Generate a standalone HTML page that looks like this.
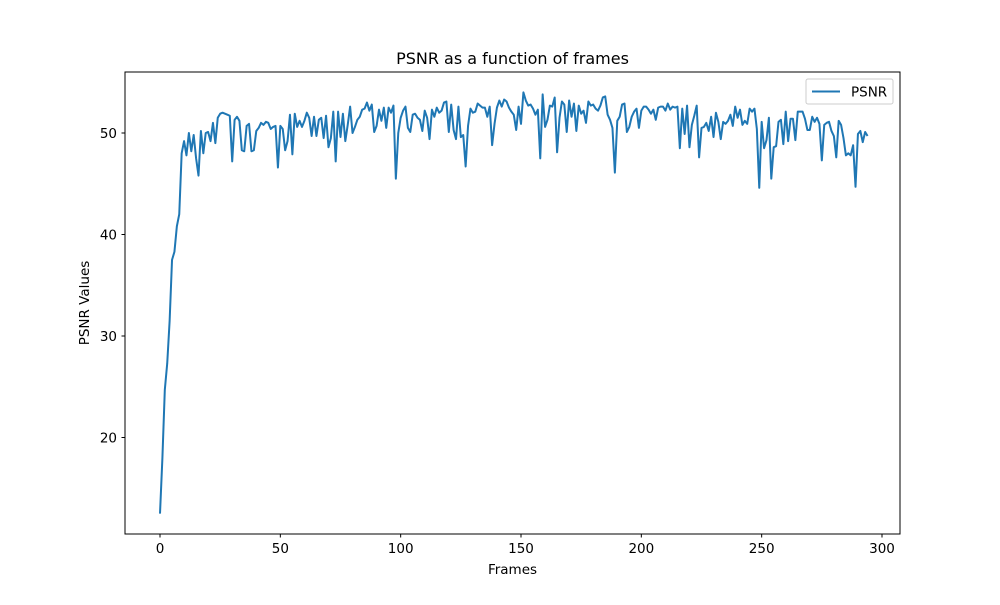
<!DOCTYPE html>
<html><head><meta charset="utf-8"><style>
body{margin:0;background:#fff;}
svg text{font-family:"DejaVu Sans","Liberation Sans",sans-serif;fill:#000;}
</style></head><body>
<svg id="chart" width="1000" height="600" xmlns="http://www.w3.org/2000/svg">
<rect width="1000" height="600" fill="#fff"/>
<text x="512.5" y="64" font-size="16" text-anchor="middle">PSNR as a function of frames</text>
<g id="plot"></g>
<rect x="125" y="72" width="775" height="462" fill="none" stroke="#000" stroke-width="1"/>
<g id="xticks"></g><g id="yticks"></g>
<text x="512.5" y="574" font-size="13.5" text-anchor="middle">Frames</text>
<text transform="translate(89,303) rotate(-90)" font-size="13.5" text-anchor="middle">PSNR Values</text>
<g>
<rect x="806" y="79" width="87" height="25" rx="2" fill="#fff" fill-opacity="0.8" stroke="#ccc"/>
<line x1="812" y1="91.5" x2="840" y2="91.5" stroke="#1f77b4" stroke-width="2"/>
<text x="851" y="96.5" font-size="13.5">PSNR</text>
</g>
</svg>
<script>
const xTickValues=[0,50,100,150,200,250,300];
const yTickValues=[20,30,40,50];
const psnrValues=[12.5,18,24.7,27.3,31.5,37.5,38.3,40.8,42,48,49.2,
47.8,50,48.2,49.8,47.5,45.8,50.2,48,50,50.1,
49.2,51,49,51.5,51.9,52,51.9,51.8,51.7,47.2,
51.3,51.6,51.2,48.3,48.2,50.7,50.9,48.2,48.3,50.2,
50.5,51,50.8,51.1,51,50.4,50.6,50.7,46.6,50.7,
50.4,48.3,49.2,51.8,47.9,51.9,50.6,51.2,50.6,51.2,
52,51.5,49.7,51.6,49.7,51.3,51.5,49.5,51.7,48.6,
49.5,52.1,47.2,52.1,49.6,51.9,49.2,50.8,52.6,50,
50.6,51.3,51.6,52.3,52.4,53,52.2,52.8,50.1,50.7,
52.3,51.2,52.5,50.5,52.5,52,52.7,45.5,50,51.5,
52.2,52.6,50.5,50.1,51.8,51.9,51.5,51.3,50.2,52.2,
51.5,49.4,52.3,51.6,52.5,52,52.2,53,53.1,50.1,
52.8,50.3,49.4,52.6,49.6,49.8,46.7,50.7,52.4,52,
52.1,52.9,52.7,52.5,52.5,51.6,52.6,48.8,50.9,52.5,
53.2,52.6,53.3,53.1,52.5,52.1,51.8,50.3,52.6,50.9,
54,53.2,52.7,52.8,52.4,51.8,52.3,47.5,53.8,50.6,
51.3,52.7,52.6,53.5,48.1,51.5,53.1,52.8,50.1,53.2,
51.6,52.9,50.2,52.7,51.9,52.2,51,53.1,52.7,52.8,
52.4,52.2,52.7,53.5,53.6,51.8,51.3,50.5,46.1,51.2,
51.6,52.8,52.9,50.1,50.6,51.6,52.1,52.4,50.5,52.2,
52.6,52.6,52.3,51.9,52.3,51.3,52.5,52.6,52.6,52.2,
52.9,52.3,52.6,52.5,52.6,48.5,52.4,49.9,52.7,48.6,
50.8,51.7,52.7,47.6,50.5,50.6,51,50.2,51.6,49.6,52,51.1,
49.4,51.1,50.9,51.2,51.8,50.7,52.6,51.5,52.3,50.8,
51.2,50.9,52.4,52.1,52.4,50.4,44.6,51.1,48.5,49.3,
51.5,45.5,48.6,48.7,51.1,51.3,48.9,52.1,49.2,51.4,
51.4,49.3,52.1,52.1,52.1,51.4,50.3,50.3,51.6,51.1,51.5,50.9,
47.3,50.8,51,51.1,50.2,49.7,47.6,51.2,50.8,49.5,
47.8,48,47.8,48.8,44.7,49.9,50.2,49.1,50.1,49.7];
const NS='http://www.w3.org/2000/svg';
function xScale(v){return 160+v*(882-160)/300;}
function yScale(v){return 133+(50-v)*10.15;}
const xt=document.getElementById('xticks');
xTickValues.forEach(v=>{
  const l=document.createElementNS(NS,'line');
  l.setAttribute('x1',xScale(v));l.setAttribute('x2',xScale(v));
  l.setAttribute('y1',534);l.setAttribute('y2',537.5);l.setAttribute('stroke','#000');
  
  
  xt.appendChild(l);
  const t=document.createElementNS(NS,'text');
  t.setAttribute('x',xScale(v));t.setAttribute('y',553);t.setAttribute('font-size','13.5');
  t.setAttribute('text-anchor','middle');t.textContent=v;
  
  
  xt.appendChild(t);
});
const yt=document.getElementById('yticks');
yTickValues.forEach(v=>{
  const l=document.createElementNS(NS,'line');
  l.setAttribute('x1',121.5);l.setAttribute('x2',125);
  l.setAttribute('y1',yScale(v));l.setAttribute('y2',yScale(v));l.setAttribute('stroke','#000');
  
  
  yt.appendChild(l);
  const t=document.createElementNS(NS,'text');
  t.setAttribute('x',117);t.setAttribute('y',yScale(v)+5);t.setAttribute('font-size','13.5');
  t.setAttribute('text-anchor','end');t.textContent=v;
  
  
  yt.appendChild(t);
});
const p=document.createElementNS(NS,'polyline');
p.setAttribute('points',psnrValues.map((v,i)=>xScale(i).toFixed(2)+','+yScale(v).toFixed(2)).join(' '));
p.setAttribute('fill','none');p.setAttribute('stroke','#1f77b4');p.setAttribute('stroke-width','2');
p.setAttribute('stroke-linejoin','round');


document.getElementById('plot').appendChild(p);
</script>
</body></html>
